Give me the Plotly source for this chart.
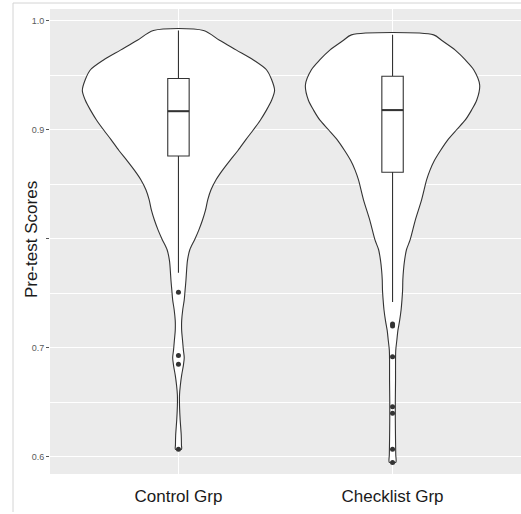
import plotly.graph_objects as go

# ---------------- data ----------------
groups = ["Control Grp", "Checklist Grp"]
group_pos = [1, 2]

# violin outline: score levels and half-width of the violin (x-axis units)
control_scores = [0.991, 0.982, 0.973, 0.964, 0.955, 0.946, 0.936, 0.927, 0.918, 0.909,
                  0.900, 0.891, 0.881, 0.872, 0.863, 0.854, 0.845, 0.836, 0.826, 0.817,
                  0.808, 0.799, 0.790, 0.780, 0.771, 0.762, 0.753, 0.744, 0.735, 0.725,
                  0.716, 0.707, 0.698, 0.691, 0.684, 0.675, 0.666, 0.657, 0.647, 0.634,
                  0.620, 0.611, 0.607]
control_halfwidth = [0.117, 0.192, 0.271, 0.350, 0.411, 0.435, 0.449, 0.435, 0.411, 0.383,
                     0.350, 0.315, 0.278, 0.241, 0.206, 0.175, 0.152, 0.137, 0.126, 0.112,
                     0.095, 0.075, 0.053, 0.042, 0.038, 0.035, 0.031, 0.027, 0.020, 0.015,
                     0.015, 0.019, 0.023, 0.027, 0.023, 0.015, 0.009, 0.005, 0.005, 0.008,
                     0.013, 0.014, 0.014]

checklist_scores = [0.987, 0.982, 0.973, 0.964, 0.955, 0.941, 0.927, 0.918, 0.909, 0.900,
                    0.891, 0.881, 0.872, 0.863, 0.854, 0.836, 0.817, 0.799, 0.790, 0.780,
                    0.771, 0.762, 0.753, 0.744, 0.735, 0.725, 0.716, 0.707, 0.698, 0.689,
                    0.670, 0.652, 0.634, 0.615, 0.602, 0.595]
checklist_halfwidth = [0.192, 0.229, 0.293, 0.340, 0.379, 0.407, 0.393, 0.369, 0.340, 0.299,
                       0.259, 0.224, 0.196, 0.175, 0.159, 0.136, 0.106, 0.082, 0.065, 0.056,
                       0.051, 0.048, 0.047, 0.044, 0.040, 0.033, 0.025, 0.020, 0.015, 0.014,
                       0.014, 0.013, 0.013, 0.014, 0.015, 0.015]

# box-plot statistics
box_q1 = [0.876, 0.861]
box_median = [0.917, 0.918]
box_q3 = [0.947, 0.949]
box_lower = [0.769, 0.742]
box_upper = [0.991, 0.987]

# outliers
control_outliers = [0.751, 0.693, 0.685, 0.607]
checklist_outliers = [0.722, 0.720, 0.692, 0.646, 0.640, 0.607, 0.595]

y_tickvals = [0.6, 0.7, 0.8, 0.9, 1.0]
y_ticktext = ["0.6", "0.7", "", "0.9", "1.0"]
y_title = "Pre-test Scores"

# ---------------- figure ----------------
LINE = "#333333"
BOX_WIDTH = 0.1
X_RANGE = [0.4, 2.6]
Y_RANGE = [0.5844, 1.0107]
fig = go.Figure()

violins = [(control_scores, control_halfwidth), (checklist_scores, checklist_halfwidth)]
for pos, (ys, hw) in zip(group_pos, violins):
    xs = [pos + w for w in hw] + [pos - w for w in reversed(hw)] + [pos + hw[0]]
    yy = list(ys) + list(reversed(ys)) + [ys[0]]
    fig.add_trace(go.Scatter(
        x=xs, y=yy, mode="lines", fill="toself", fillcolor="white",
        line=dict(color=LINE, width=1.1, shape="spline", smoothing=0.8),
        hoverinfo="skip", showlegend=False))

# boxes etc. on an overlaying axis pair so they sit above the violins
fig.add_trace(go.Box(
    x=group_pos, q1=box_q1, median=box_median, q3=box_q3,
    lowerfence=box_lower, upperfence=box_upper,
    width=BOX_WIDTH, whiskerwidth=0, boxpoints=False,
    fillcolor="white", line=dict(color=LINE, width=1.1), showlegend=False,
    xaxis="x2", yaxis="y2"))

for pos, med in zip(group_pos, box_median):
    fig.add_trace(go.Scatter(
        x=[pos - BOX_WIDTH / 2, pos + BOX_WIDTH / 2], y=[med, med], mode="lines",
        line=dict(color=LINE, width=2), hoverinfo="skip", showlegend=False,
        xaxis="x2", yaxis="y2"))

for pos, pts in zip(group_pos, [control_outliers, checklist_outliers]):
    fig.add_trace(go.Scatter(
        x=[pos] * len(pts), y=pts, mode="markers",
        marker=dict(color=LINE, size=5), showlegend=False,
        xaxis="x2", yaxis="y2"))

# panel geometry in pixels
W, H = 521, 514
L, R, T, B = 50, 0, 9, 40
pw, ph = W - L - R, H - T - B

def px_x(x):
    return (x - L) / pw

def px_y(y):
    return (H - B - y) / ph

frame = "#d4d4d4"
shapes = [
    dict(type="line", xref="paper", yref="paper", x0=px_x(13), x1=px_x(521),
         y0=px_y(3), y1=px_y(3), line=dict(color=frame, width=1)),
    dict(type="line", xref="paper", yref="paper", x0=px_x(13), x1=px_x(13),
         y0=px_y(3), y1=px_y(512), line=dict(color=frame, width=1)),
]

fig.update_layout(
    width=W, height=H,
    margin=dict(l=L, r=R, t=T, b=B, pad=0),
    paper_bgcolor="white", plot_bgcolor="#ebebeb",
    font=dict(family="Liberation Sans, Arial, sans-serif"),
    shapes=shapes,
    annotations=[dict(text=y_title, xref="paper", yref="paper",
                      x=px_x(31), y=px_y(240), xanchor="center", yanchor="middle",
                      textangle=-90, showarrow=False,
                      font=dict(size=17, color="#1a1a1a"))],
    xaxis=dict(range=X_RANGE, tickvals=group_pos, ticktext=groups,
               showgrid=True, gridcolor="white", gridwidth=1.2, zeroline=False,
               ticks="", ticklabelstandoff=10, tickfont=dict(size=17, color="#1a1a1a"),
               showline=False, automargin=False),
    yaxis=dict(range=Y_RANGE, tickvals=y_tickvals, ticktext=y_ticktext,
               showgrid=True, gridcolor="white", gridwidth=1.2, zeroline=False,
               ticks="outside", ticklen=3, tickcolor="#555555", tickwidth=1,
               tickfont=dict(size=9, color="#5a5a5a"),
               minor=dict(tickvals=[0.65, 0.75, 0.85, 0.95], showgrid=True,
                          gridcolor="white", gridwidth=0.6, ticks=""),
               showline=False, automargin=False),
    xaxis2=dict(range=X_RANGE, overlaying="x", visible=False, showgrid=False),
    yaxis2=dict(range=Y_RANGE, overlaying="y", visible=False, showgrid=False),
)

fig.write_html("out.html", config={"displayModeBar": False},
               post_script="document.body.style.margin='0';")
